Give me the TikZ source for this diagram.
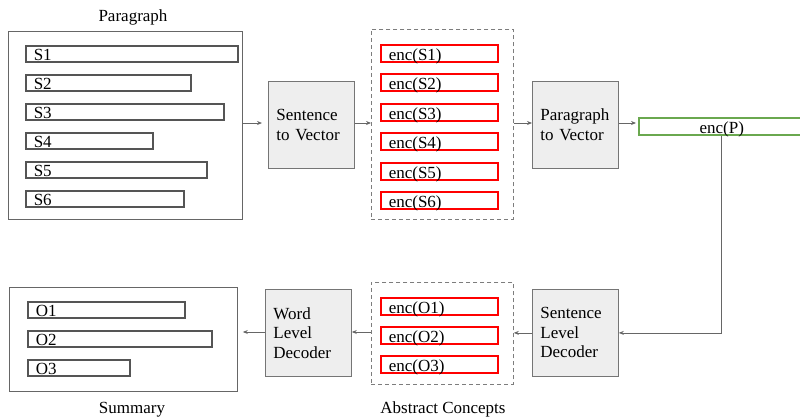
\documentclass[tikz,border=0pt]{standalone}
\usepackage{fontspec}
\setmainfont{Liberation Serif}
\usetikzlibrary{positioning,arrows.meta}
\tikzset{>=stealth}
\definecolor{linegray}{HTML}{666666}
\definecolor{bargray}{HTML}{555555}
\definecolor{boxfill}{HTML}{EEEEEE}
\definecolor{encred}{HTML}{FF0000}
\definecolor{encgreen}{HTML}{6AA84F}
\tikzset{
  frame/.style={draw=linegray,line width=0.8pt,anchor=north west,inner sep=0pt},
  dashframe/.style={draw=linegray!85,dash pattern=on 4pt off 3pt,line width=0.8pt,anchor=north west,inner sep=0pt},
  bar/.style={draw=bargray,line width=1.5pt,anchor=north west,minimum height=16pt,
    inner sep=0pt,inner xsep=8pt,text height=14pt,text depth=0pt,align=left},
  encbar/.style={bar,draw=encred,minimum height=17pt,text height=15pt,text width=101pt},
  stage/.style={draw=linegray!90,fill=boxfill,line width=0.8pt,anchor=north west,
    minimum width=86pt,minimum height=87pt,inner sep=0pt,inner xsep=8pt,
    text width=70pt,align=left},
  arr/.style={draw=linegray,line width=0.8pt,-{Stealth[length=5pt,width=4pt]}}
}
\begin{document}
\begin{tikzpicture}[x=1pt,y=-1pt,font=\fontsize{17}{19.5}\selectfont]
\useasboundingbox (0,0) rectangle (800,418);
% input paragraph
\node[frame,minimum width=234pt,minimum height=188pt] (para) at (8,31) {};
\node[anchor=base] (paratitle) at (133,21) {Paragraph};
\foreach \n/\t/\y/\r [evaluate=\r as \w using \r-41] in
    {s1/S1/45/237,s2/S2/74/190,s3/S3/103/223,s4/S4/132/152,s5/S5/161/206,s6/S6/190/183}
  \node[bar,text width=\w pt] (\n) at (25,\y) {\t};
% sentence encoder
\node[stage] (s2v) at (268,81) {Sentence\\to Vector};
\node[dashframe,minimum width=142pt,minimum height=190pt] (encs) at (371,29) {};
\foreach \n/\t/\y in {es1/S1/44,es2/S2/73,es3/S3/103,es4/S4/132,es5/S5/162,es6/S6/191}
  \node[encbar] (\n) at (380,\y) {enc(\t)};
\node[stage] (p2v) at (532,81) {Paragraph\\to Vector};
\node[bar,draw=encgreen,minimum width=166pt,minimum height=17pt,text height=15pt,
  text width=150pt,align=center] (encp) at (638,117) {enc(P)};
% decoders
\node[stage] (sld) at (532,289) {Sentence\\Level\\Decoder};
\node[dashframe,minimum width=142pt,minimum height=102pt] (enco) at (371,282) {};
\foreach \n/\t/\y in {eo1/O1/297,eo2/O2/326,eo3/O3/355}
  \node[encbar] (\n) at (380,\y) {enc(\t)};
\node[anchor=base] (abstitle) at (443,413) {Abstract Concepts};
\node[stage] (wld) at (265,289) {Word\\Level\\Decoder};
\node[frame,minimum width=228pt,minimum height=104pt] (summ) at (9,287) {};
\node[anchor=base] (summtitle) at (132,413) {Summary};
\foreach \n/\t/\y/\r [evaluate=\r as \w using \r-43] in
    {o1/O1/301/184,o2/O2/330/211,o3/O3/359/129}
  \node[bar,text width=\w pt] (\n) at (27,\y) {\t};
% connectors
\draw[arr,shorten >=6pt] (para.east |- 0,123) -- (s2v.west |- 0,123);
\draw[arr] (s2v.east |- 0,123) -- (encs.west |- 0,123);
\draw[arr] (encs.east |- 0,123) -- (p2v.west |- 0,123);
\draw[arr,shorten >=2pt] (p2v.east |- 0,123) -- (encp.west |- 0,123);
\draw[arr] (encp.south) |- (sld.east);
\draw[arr] (sld.west) -- (sld.west -| enco.east);
\draw[arr] (enco.west |- 0,332) -- (wld.east |- 0,332);
\draw[arr,shorten >=5pt] (wld.west |- 0,332) -- (summ.east |- 0,332);
\end{tikzpicture}
\end{document}
